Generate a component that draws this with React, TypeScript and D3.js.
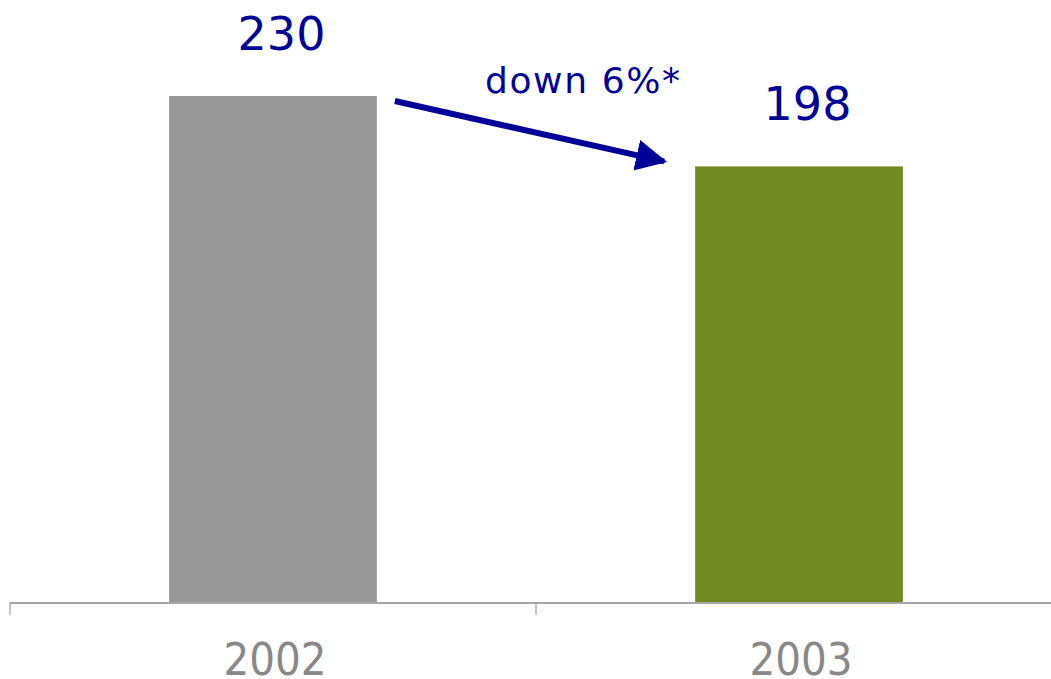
import React from "react";
import * as d3 from "d3";

const categories = ["2002", "2003"];
const values = [230, 198];
const changeLabel = "down 6%*";

export default function App() {
  const W = 1051, H = 679;
  const x = d3.scaleBand<string>().domain(categories).range([10, 1062]).paddingInner(0.605).paddingOuter(0.3025);
  const step = x.step();
  const y = d3.scaleLinear().domain([0, 230]).range([602, 96]);
  const colors = ["#989898", "#718b22"];
  const blue = "#000099";
  const b0 = x(categories[0])! + x.bandwidth();
  const b1 = x(categories[1])!;
  return (
    <svg width={W} height={H} style={{ position: "absolute", left: 0, top: 0 }}>
      <defs>
        <marker id="ah" viewBox="0 0 10 10" refX="9" refY="5" markerWidth="5.2" markerHeight="5.4" orient="auto" markerUnits="strokeWidth">
          <path d="M0,0 L10,5 L0,10 z" fill={blue} />
        </marker>
      </defs>
      {categories.map((c, i) => (
        <rect key={c} x={x(c)} y={y(values[i])} width={x.bandwidth()} height={y(0) - y(values[i])} fill={colors[i]} />
      ))}
      <line x1={10} x2={W} y1={y(0) + 1} y2={y(0) + 1} stroke="#8a8a8a" strokeWidth={1.5} />
      {[0, 1].map((i) => {
        const tx = 10 + step * i;
        return <line key={i} x1={tx} x2={tx} y1={y(0) + 1} y2={y(0) + 13} stroke="#8a8a8a" strokeWidth={1} />;
      })}
      {categories.map((c) => (
        <text key={c} x={x(c)! + x.bandwidth() / 2 + 2} y={675} textAnchor="middle" fontFamily="'DejaVu Sans Condensed', 'DejaVu Sans', sans-serif" fontSize={45} fill="#888888">{c}</text>
      ))}
      {categories.map((c, i) => (
        <text key={c} x={x(c)! + x.bandwidth() / 2 + 8.5} y={y(values[i]) - 46} textAnchor="middle" fontFamily="'DejaVu Sans', Verdana, sans-serif" fontSize={46} fill={blue}>{values[i]}</text>
      ))}
      <text x={485} y={93} fontFamily="'DejaVu Sans', Verdana, sans-serif" fontSize={36} fill={blue} textLength={195}>{changeLabel}</text>
      <line x1={b0 + 18} y1={y(values[0]) + 5} x2={b1 - 31} y2={y(values[1]) - 5} stroke={blue} strokeWidth={6} markerEnd="url(#ah)" />
    </svg>
  );
}
